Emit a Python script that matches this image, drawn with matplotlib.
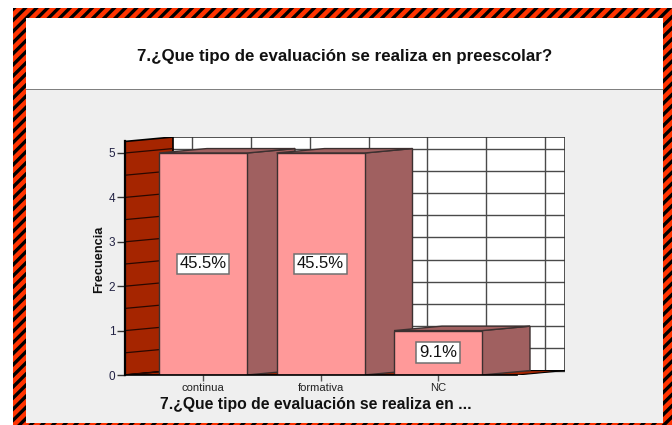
import matplotlib
matplotlib.use("Agg")
import matplotlib.pyplot as plt
from matplotlib.patches import Rectangle

plt.rcParams['font.family'] = ['Liberation Sans', 'DejaVu Sans']
plt.rcParams['hatch.linewidth'] = 2.4

# Datos
categorias = ["continua", "formativa", "NC"]
frecuencias = [5, 5, 1]
porcentajes = ["45.5%", "45.5%", "9.1%"]
y_ticks = [0, 1, 2, 3, 4, 5]
titulo = "7.¿Que tipo de evaluación se realiza en preescolar?"
x_titulo = "7.¿Que tipo de evaluación se realiza en ..."
y_titulo = "Frecuencia"

W, H = 672, 425
fig = plt.figure(figsize=(W / 100, H / 100), dpi=100, facecolor="white")


def caja(x0, y0, x1, y1, **kw):
    # rectangulo en pixeles (origen arriba a la izquierda)
    r = Rectangle((x0 / W, 1 - y1 / H), (x1 - x0) / W, (y1 - y0) / H,
                  transform=fig.transFigure, **kw)
    fig.add_artist(r)


# Marco rayado y fondos
caja(13, 8, 673, 426, facecolor="#ff3300", edgecolor="black", hatch="///", lw=0, zorder=0)
caja(26, 18, 663, 90, facecolor="white", edgecolor="none", zorder=1)
caja(26, 89, 663, 423, facecolor="#efefef", edgecolor="none", zorder=1)
caja(26, 88.5, 663, 89.5, facecolor="#808080", edgecolor="none", zorder=1)

fig.text(345 / W, 1 - 57 / H, titulo, ha="center", va="center", fontsize=12.2,
         fontweight="bold", color="#111111", zorder=3)

ax = fig.add_axes([125 / W, 1 - 375 / H, 440 / W, 238 / H], zorder=2)
ax.patch.set_alpha(0)

paso_x = 117.5
paso_y = 44.4
xl = (125 - 203) / paso_x
xr = (565 - 203) / paso_x
dx = 48 / paso_x
dy = 0.10
top = 5.26
ancho = 88 / paso_x
ax.set_xlim(xl, xr)
ax.set_ylim(0, 238 / paso_y)

pared = "#a52500"
linea = "#4a4a4a"

# Pared de fondo, pared lateral y suelo
ax.fill([xl + dx, xr, xr, xl + dx], [dy, dy, top + dy, top + dy], facecolor="white", edgecolor="none", zorder=1)
for i in range(7):
    xg = -0.5 + i * 0.5 + dx
    ax.plot([xg, xg], [dy, top + dy], color=linea, lw=1.0, zorder=1.5)
for i in range(11):
    yg = i * 0.5
    ax.plot([xl + dx, xr], [yg + dy, yg + dy], color=linea, lw=1.0, zorder=1.5)
ax.plot([xl + dx, xr, xr, xl + dx], [top + dy, top + dy, dy, dy], color="#333333", lw=1.2, zorder=1.6)

ax.fill([xl, xl + dx, xl + dx, xl], [0, dy, top + dy, top], facecolor=pared, edgecolor="black", lw=1.2, zorder=2)
for i in range(11):
    yg = i * 0.5
    ax.plot([xl, xl + dx], [yg, yg + dy], color="#2a0800", lw=0.9, zorder=2.1)
ax.fill([xl, xr - dx, xr, xl + dx], [0, 0, dy, dy], facecolor=pared, edgecolor="black", lw=0.8, zorder=2)

# Barras
for i in range(len(categorias)):
    v = frecuencias[i]
    x0 = i - ancho / 2
    x1 = i + ancho / 2
    z = 3 + i
    ax.fill([x1, x1 + dx, x1 + dx, x1], [0, dy, v + dy, v], facecolor="#a06060", edgecolor="#3c3030", lw=1.0, zorder=z)
    ax.fill([x0, x0 + dx, x1 + dx, x1], [v, v + dy, v + dy, v], facecolor="#a06060", edgecolor="#3c3030", lw=1.0, zorder=z)
    ax.bar(i, v, width=ancho, facecolor="#ff9999", edgecolor="#3c3030", lw=1.0, zorder=z + 0.1)
    ax.text(i, v / 2, porcentajes[i], ha="center", va="center", fontsize=12, color="#111111", zorder=8,
            bbox=dict(boxstyle="square,pad=0.17", facecolor="white", edgecolor="#707070", lw=1.1))

# Ejes
for s in ["top", "right"]:
    ax.spines[s].set_visible(False)
ax.spines["left"].set_bounds(0, top)
ax.spines["left"].set_linewidth(1.6)
ax.spines["left"].set_zorder(9)
ax.spines["bottom"].set_bounds(xl, xr - dx)
ax.spines["bottom"].set_linewidth(1.2)
ax.spines["bottom"].set_zorder(9)
ax.set_yticks(y_ticks)
ax.set_xticks(range(len(categorias)))
ax.set_xticklabels(categorias)
ax.tick_params(axis="y", length=6, width=1.0, color="#333333", labelsize=8.5, labelcolor="#222244", pad=1)
ax.tick_params(axis="x", length=4.5, width=1.0, color="#555555", labelsize=8.1, labelcolor="#222222", pad=1.5)
ax.set_ylabel(y_titulo, fontsize=9.2, fontweight="bold", color="#111111", va="center")
ax.yaxis.set_label_coords((99 - 125) / 440, (375 - 259) / 238)
ax.set_xlabel(x_titulo, fontsize=11.3, fontweight="bold", color="#111111", va="center")
ax.xaxis.set_label_coords((316 - 125) / 440, -(404 - 375) / 238)

fig.savefig("out.png", dpi=100)
